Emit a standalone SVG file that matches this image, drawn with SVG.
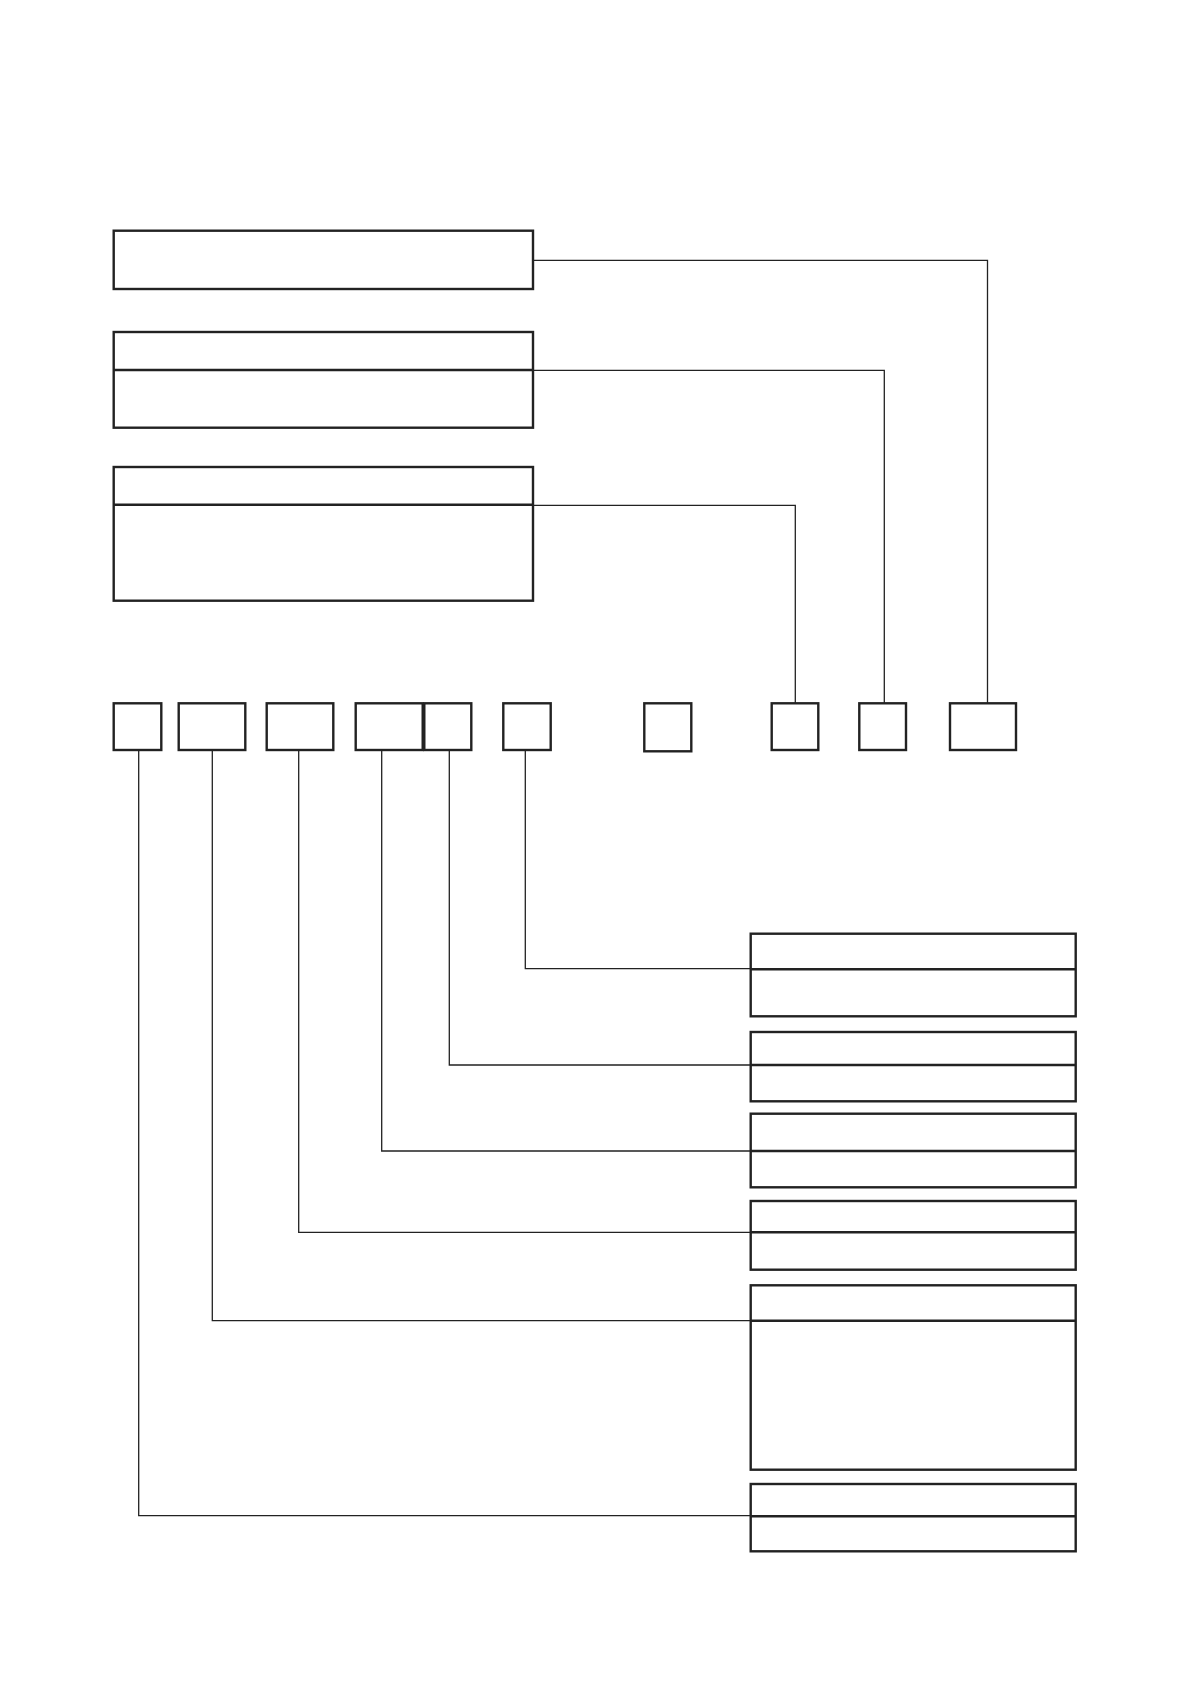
<svg xmlns="http://www.w3.org/2000/svg" width="1191" height="1684" viewBox="0 0 1191 1684">
<style>
.box{fill:#fff;stroke:#222;stroke-width:2.4}
.div{stroke:#222;stroke-width:2.6;fill:none}
.con{stroke:#222;stroke-width:1.3;fill:none}
</style>
<rect width="1191" height="1684" fill="#fff"/>
<g id="connectors">
<polyline class="con" points="533,260.3 987.5,260.3 987.5,703.3"/>
<polyline class="con" points="533,370.3 884.3,370.3 884.3,703.3"/>
<polyline class="con" points="533,505.3 795.3,505.3 795.3,703.3"/>
<polyline class="con" points="525.3,750 525.3,968.7 750.7,968.7"/>
<polyline class="con" points="449.3,750 449.3,1065 750.7,1065"/>
<polyline class="con" points="381.7,750 381.7,1151 750.7,1151"/>
<polyline class="con" points="298.7,750 298.7,1232.3 750.7,1232.3"/>
<polyline class="con" points="212.3,750 212.3,1320.7 750.7,1320.7"/>
<polyline class="con" points="138.7,750 138.7,1515.7 750.7,1515.7"/>
</g>
<g id="top1"><rect class="box" x="113.7" y="230.7" width="419.3" height="58.3"/></g>
<g id="top2"><rect class="box" x="113.7" y="332" width="419.3" height="95.7"/><line class="div" x1="113.7" y1="370" x2="533" y2="370"/></g>
<g id="top3"><rect class="box" x="113.7" y="467" width="419.3" height="133.7"/><line class="div" x1="113.7" y1="504.7" x2="533" y2="504.7"/></g>
<g id="s1"><rect class="box" x="113.7" y="703.3" width="47.6" height="46.7"/></g>
<g id="s2"><rect class="box" x="178.7" y="703.3" width="66.6" height="46.7"/></g>
<g id="s3"><rect class="box" x="266.7" y="703.3" width="66.6" height="46.7"/></g>
<g id="s4"><rect class="box" x="355.7" y="703.3" width="67" height="46.7"/></g>
<g id="s5"><rect class="box" x="424.3" y="703.3" width="47" height="46.7"/></g>
<g id="s6"><rect class="box" x="503.3" y="703.3" width="47.4" height="46.7"/></g>
<g id="s7"><rect class="box" x="644.3" y="703.3" width="47" height="48"/></g>
<g id="s8"><rect class="box" x="771.7" y="703.3" width="46.6" height="46.7"/></g>
<g id="s9"><rect class="box" x="859.3" y="703.3" width="46.7" height="46.7"/></g>
<g id="s10"><rect class="box" x="950" y="703.3" width="66" height="46.7"/></g>
<g id="rA"><rect class="box" x="750.7" y="933.7" width="325" height="82.6"/><line class="div" x1="750.7" y1="969.3" x2="1075.7" y2="969.3"/></g>
<g id="rB"><rect class="box" x="750.7" y="1032" width="325" height="69.3"/><line class="div" x1="750.7" y1="1065" x2="1075.7" y2="1065"/></g>
<g id="rC"><rect class="box" x="750.7" y="1113.7" width="325" height="73.6"/><line class="div" x1="750.7" y1="1151" x2="1075.7" y2="1151"/></g>
<g id="rD"><rect class="box" x="750.7" y="1201" width="325" height="68.7"/><line class="div" x1="750.7" y1="1232.3" x2="1075.7" y2="1232.3"/></g>
<g id="rE"><rect class="box" x="750.7" y="1285.3" width="325" height="184.4"/><line class="div" x1="750.7" y1="1320.7" x2="1075.7" y2="1320.7"/></g>
<g id="rF"><rect class="box" x="750.7" y="1484" width="325" height="67.3"/><line class="div" x1="750.7" y1="1516.3" x2="1075.7" y2="1516.3"/></g>
</svg>
